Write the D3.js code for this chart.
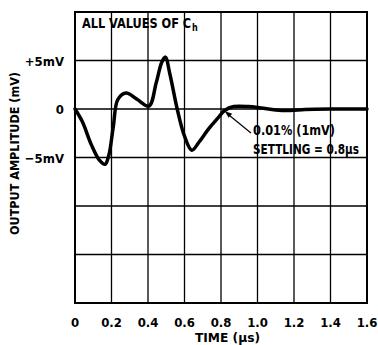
<!DOCTYPE html>
<html><head><meta charset="utf-8">
<script src="https://cdn.jsdelivr.net/npm/d3@7"></script>
<style>
html,body{margin:0;padding:0;background:#fff;}
svg text{font-family:"DejaVu Sans Condensed","Liberation Sans Narrow","Arial Narrow",sans-serif;font-weight:bold;fill:#000;}
</style></head>
<body><svg id="c" width="378" height="345"></svg>
<script>
const timeUs = [0, 0.04, 0.09, 0.135, 0.165, 0.185, 0.21, 0.235, 0.28, 0.34, 0.405, 0.445, 0.475, 0.495, 0.52, 0.56, 0.6, 0.64, 0.68, 0.73, 0.78, 0.82, 0.87, 0.95, 1.02, 1.1, 1.18, 1.26, 1.4, 1.6];
const amplitudeMv = [0, -1.3, -3.7, -5.3, -5.7, -4.8, -1.8, 1.0, 1.65, 1.0, 0.3, 2.7, 4.8, 5.35, 3.6, 0.0, -2.8, -4.25, -3.4, -2.1, -1.0, -0.15, 0.25, 0.25, 0.1, -0.1, -0.15, -0.05, 0, 0];
const xTicks = [0, 0.2, 0.4, 0.6, 0.8, 1.0, 1.2, 1.4, 1.6];
const xTickLabels = ["0", "0.2", "0.4", "0.6", "0.8", "1.0", "1.2", "1.4", "1.6"];
const yTicks = [10, 5, 0, -5, -10, -15, -20];
const yTickLabels = {"5": "+5mV", "0": "0", "-5": "\u22125mV"};

const L = 75, R = 367, T = 12, B = 303;
const x = d3.scaleLinear().domain([0, 1.6]).range([L, R]);
const y = d3.scaleLinear().domain([-20, 10]).range([B, T]);
const svg = d3.select("#c");

// grid
svg.append("g").selectAll("line").data(xTicks).join("line")
  .attr("x1", d => x(d)).attr("x2", d => x(d)).attr("y1", T).attr("y2", B)
  .attr("stroke", "#000").attr("stroke-width", 1.3);
svg.append("g").selectAll("line").data(yTicks).join("line")
  .attr("x1", L).attr("x2", R).attr("y1", d => y(d)).attr("y2", d => y(d))
  .attr("stroke", "#000").attr("stroke-width", 1.3);
svg.append("rect").attr("x", L).attr("y", T).attr("width", R - L).attr("height", B - T)
  .attr("fill", "none").attr("stroke", "#000").attr("stroke-width", 2);

// x tick labels
svg.append("g").selectAll("text").data(xTicks).join("text")
  .attr("x", d => x(d)).attr("y", 327).attr("text-anchor", "middle")
  .attr("font-size", 13).text((d, i) => xTickLabels[i]);
// y tick labels
svg.append("g").selectAll("text").data([5, 0, -5]).join("text")
  .attr("x", 64).attr("y", d => y(d) + 5).attr("text-anchor", "end")
  .attr("font-size", 13).text(d => yTickLabels[String(d)]);

// axis titles
svg.append("text").attr("x", 195).attr("y", 342)
  .attr("font-size", 13).attr("textLength", 65).attr("lengthAdjust", "spacingAndGlyphs").text("TIME (\u03bcs)");
svg.append("text").attr("transform", "translate(19,235) rotate(-90)")
  .attr("font-size", 13).attr("textLength", 163).attr("lengthAdjust", "spacingAndGlyphs").text("OUTPUT AMPLITUDE (mV)");

// header label (single text element, natural flow, subscript tspan)
const hdr = svg.append("text").attr("transform", "translate(82,28) scale(0.9,1)").attr("font-size", 14);
hdr.append("tspan").text("ALL VALUES OF C");
hdr.append("tspan").attr("dx", 1).attr("dy", 3).attr("font-size", 10).text("h");

// curve
const line = d3.line().x((d, i) => x(timeUs[i])).y(d => y(d)).curve(d3.curveCatmullRom.alpha(0.5));
svg.append("path").datum(amplitudeMv).attr("d", line)
  .attr("fill", "none").attr("stroke", "#000").attr("stroke-width", 3.5)
  .attr("stroke-linejoin", "round").attr("stroke-linecap", "round");

// annotation arrow
const tip = [x(0.82), y(-0.2)];
const tail = [251, 133];
svg.append("line").attr("x1", tail[0]).attr("y1", tail[1]).attr("x2", tip[0] + 3).attr("y2", tip[1] + 3)
  .attr("stroke", "#000").attr("stroke-width", 1.2);
const ang = Math.atan2(tail[1] - tip[1], tail[0] - tip[0]);
const ah = 8, aw = 0.35;
svg.append("path").attr("d", `M${tip[0]},${tip[1]} L${tip[0] + ah * Math.cos(ang - aw)},${tip[1] + ah * Math.sin(ang - aw)} L${tip[0] + ah * Math.cos(ang + aw)},${tip[1] + ah * Math.sin(ang + aw)} Z`)
  .attr("fill", "#000");

svg.append("text").attr("x", 253).attr("y", 135).attr("font-size", 13.5)
  .attr("textLength", 82).attr("lengthAdjust", "spacingAndGlyphs").text("0.01% (1mV)");
svg.append("text").attr("x", 253).attr("y", 154).attr("font-size", 13.5)
  .attr("textLength", 106).attr("lengthAdjust", "spacingAndGlyphs").text("SETTLING = 0.8\u03bcs");
</script></body></html>
